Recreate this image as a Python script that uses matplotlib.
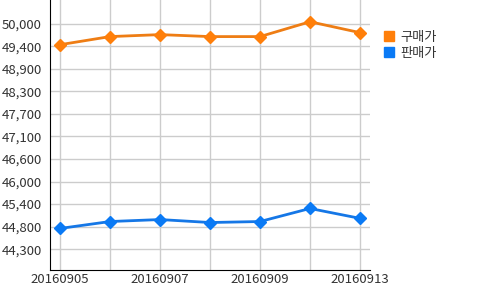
import matplotlib.pyplot as plt
from matplotlib.patches import Patch

plt.rcParams['font.family'] = ['Noto Sans CJK KR', 'DejaVu Sans']

dates = ["20160905", "20160906", "20160907", "20160908", "20160909", "20160912", "20160913"]
buy = [49470, 49675, 49725, 49675, 49675, 50050, 49775]
sell = [44825, 45000, 45050, 44975, 45000, 45330, 45080]

ytick_vals = [44300 + 570 * k for k in range(11)]
ytick_labels = ["44,300", "44,800", "45,400", "46,000", "46,600", "47,100",
                "47,700", "48,300", "48,900", "49,400", "50,000"]

fig = plt.figure(figsize=(5, 2.9), dpi=100)
ax = fig.add_axes([0.1, 0.069, 0.64, 0.931])

x = list(range(len(dates)))
ax.plot(x, buy, color="#EE7D14", lw=2, marker="D", ms=6, mfc="#FF7F0A", mec="#FF7F0A", zorder=3)
ax.plot(x, sell, color="#1577E6", lw=2, marker="D", ms=6, mfc="#0A7AF5", mec="#0A7AF5", zorder=3)

ax.set_xlim(-0.2, 6.2)
ax.set_ylim(43775, 50600)
ax.set_xticks(x)
ax.set_xticklabels([d if i % 2 == 0 else "" for i, d in enumerate(dates)])
ax.set_yticks(ytick_vals)
ax.set_yticklabels(ytick_labels)
ax.tick_params(length=0, labelsize=9.5, colors="#333333", pad=2)
ax.tick_params(axis="y", pad=6)
ax.grid(True, color="#CCCCCC", lw=1)
ax.set_axisbelow(True)
for s in ["top", "right"]:
    ax.spines[s].set_visible(False)
ax.spines["left"].set_color("black")
ax.spines["bottom"].set_color("black")

handles = [Patch(color="#FF7F0A", label="구매가"), Patch(color="#0A7AF5", label="판매가")]
fig.legend(handles=handles, loc="upper left", bbox_to_anchor=(0.755, 0.917),
           frameon=False, fontsize=9.5, handlelength=0.75, handleheight=0.75,
           handletextpad=0.45, labelspacing=0.22, borderpad=0,
           labelcolor="#333333")

fig.savefig("out.png")
